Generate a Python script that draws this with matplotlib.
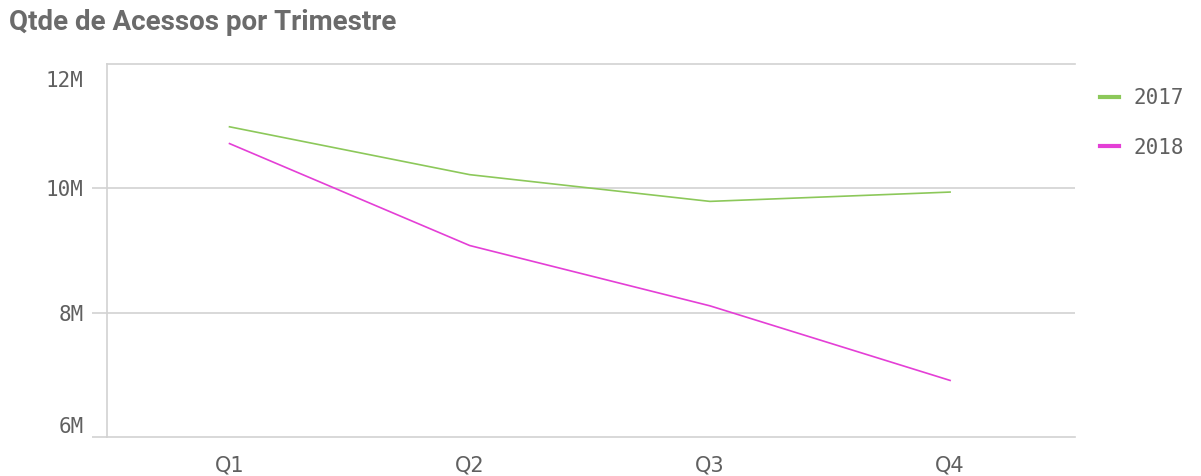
import matplotlib
matplotlib.use('agg')
import matplotlib.pyplot as plt
from matplotlib.ticker import FixedLocator
from matplotlib.transforms import ScaledTranslation

# values in millions
quarters = ['Q1', 'Q2', 'Q3', 'Q4']
acessos_2017 = [10.99, 10.22, 9.79, 9.94]
acessos_2018 = [10.72, 9.08, 8.11, 6.91]
y_ticks = [6, 8, 10, 12]
y_labels = ['6M', '8M', '10M', '12M']

green = '#8cc85a'
magenta = '#e43fd6'
grid_grey = '#d2d2d2'
text_grey = '#606060'

fig = plt.figure(figsize=(12.01, 4.76), dpi=100)
ax = fig.add_axes([107/1201, 1 - 437/476, (1075-107)/1201, (437-64)/476])

x = list(range(len(quarters)))
ax.plot(x, acessos_2017, color=green, lw=1.2, label='2017')
ax.plot(x, acessos_2018, color=magenta, lw=1.2, label='2018')

ax.set_xlim(-0.51, 3.52)
ax.set_ylim(6, 12)
ax.set_xticks(x)
ax.set_xticklabels(quarters, family=['Liberation Sans Narrow', 'DejaVu Sans'],
                   fontsize=15, color=text_grey)
ax.tick_params(axis='x', length=0, pad=13)

ax.yaxis.set_major_locator(FixedLocator(y_ticks))
ax.set_yticklabels(y_labels, family='DejaVu Sans Mono', fontsize=15, color=text_grey)
ax.tick_params(axis='y', length=11, width=1.2, color=grid_grey, pad=6)
ticks = ax.yaxis.get_major_ticks()
ticks[-1].tick1line.set_visible(False)
ticks[-1].label1.set_va('top')
ticks[-1].label1.set_transform(ticks[-1].label1.get_transform() +
                               ScaledTranslation(0, -7/100, fig.dpi_scale_trans))
ticks[0].label1.set_va('bottom')

for v in [8, 10]:
    ax.axhline(v, color=grid_grey, lw=1.2, zorder=0)

for side in ['left', 'top', 'bottom']:
    ax.spines[side].set_color(grid_grey)
    ax.spines[side].set_linewidth(1.2)
ax.spines['right'].set_visible(False)

leg = ax.legend(loc='upper left', bbox_to_anchor=(1.006, 0.985), frameon=False,
                handlelength=0.95, handletextpad=0.7, labelspacing=1.4,
                prop={'family': 'DejaVu Sans Mono', 'size': 15})
for h in leg.get_lines():
    h.set_linewidth(3)
for t in leg.get_texts():
    t.set_color(text_grey)

fig.text(9/1201, 1 - 23/476, 'Qtde de Acessos por Trimestre', family=['Roboto', 'DejaVu Sans'],
         fontweight='bold', fontsize=20, color='#6b6b6b', va='center', ha='left')

fig.savefig('out.png', dpi=100, facecolor='white')
